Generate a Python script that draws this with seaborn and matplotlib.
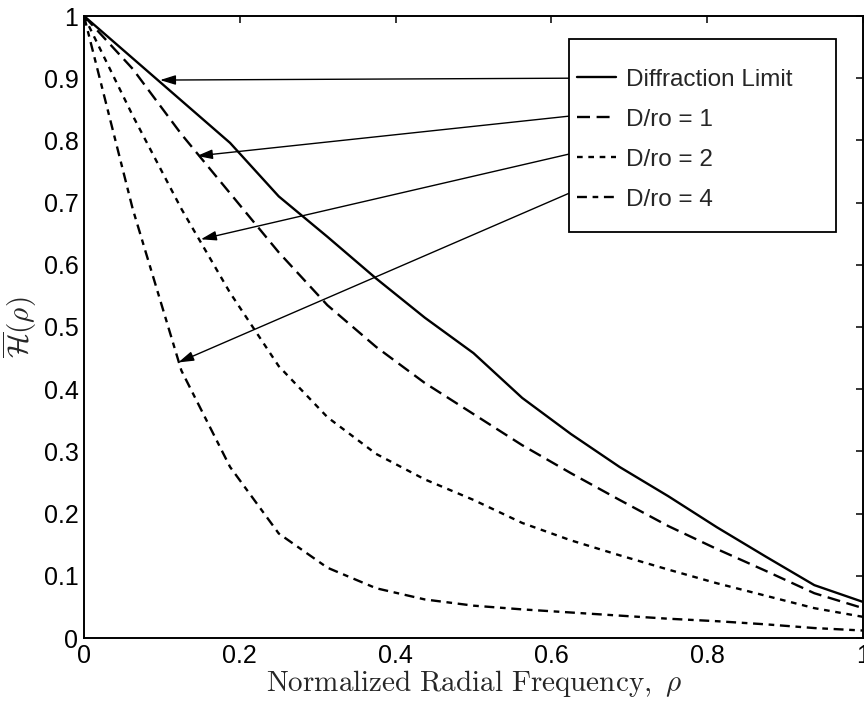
import numpy as np
import pandas as pd
import matplotlib
matplotlib.use("Agg")
import matplotlib.pyplot as plt
from matplotlib.patches import Rectangle
import seaborn as sns

# sampled radial frequencies (1/16 steps)
rho = [0, 0.0625, 0.125, 0.1875, 0.25, 0.3125, 0.375, 0.4375, 0.5,
       0.5625, 0.625, 0.6875, 0.75, 0.8125, 0.875, 0.9375, 1.0]

diff_limit = [1.0, 0.932, 0.864, 0.796, 0.71, 0.645, 0.578, 0.515, 0.458,
              0.386, 0.328, 0.275, 0.228, 0.178, 0.131, 0.085, 0.058]
d_ro_1 = [1.0, 0.915, 0.81, 0.715, 0.62, 0.535, 0.468, 0.41, 0.36,
          0.31, 0.265, 0.222, 0.18, 0.143, 0.108, 0.072, 0.048]
d_ro_2 = [1.0, 0.84, 0.69, 0.555, 0.437, 0.355, 0.296, 0.255, 0.222,
          0.185, 0.157, 0.133, 0.11, 0.088, 0.068, 0.048, 0.034]
d_ro_4 = [1.0, 0.69, 0.43, 0.275, 0.168, 0.113, 0.08, 0.062, 0.052,
          0.046, 0.041, 0.036, 0.031, 0.027, 0.022, 0.016, 0.012]

labels = ["Diffraction Limit", "D/ro = 1", "D/ro = 2", "D/ro = 4"]

# arrows: legend edge -> curve
arrow_start = [(0.6226, 0.900), (0.6226, 0.839), (0.6226, 0.778), (0.6226, 0.715)]
arrow_tip = [(0.0976, 0.897), (0.145, 0.775), (0.150, 0.641), (0.121, 0.443)]

df = pd.concat([
    pd.DataFrame({"rho": rho, "H": vals, "curve": lab})
    for vals, lab in zip([diff_limit, d_ro_1, d_ro_2, d_ro_4], labels)
])

sns.set_style("white")
plt.rcParams["font.family"] = ["Liberation Sans", "DejaVu Sans"]
plt.rcParams["mathtext.fontset"] = "cm"

fig = plt.figure(figsize=(8.64, 7.05), dpi=100)
ax = fig.add_axes([84 / 864, 1 - 638 / 705, 779 / 864, 622 / 705])

dash_map = {
    labels[0]: "",
    labels[1]: (5.5, 2.8),
    labels[2]: (2.4, 2.4),
    labels[3]: (4.2, 2.4, 2.4, 2.4),
}
sns.lineplot(data=df, x="rho", y="H", style="curve", style_order=labels,
             dashes=dash_map, color="black", linewidth=1.7, ax=ax,
             legend="full")

leg_old = ax.get_legend()
handles = leg_old.legend_handles
leg_labels = [t.get_text() for t in leg_old.get_texts()]
leg_old.remove()

ax.set_xlim(0, 1)
ax.set_ylim(0, 1)
ax.set_xticks([0, 0.2, 0.4, 0.6, 0.8, 1.0])
ax.set_yticks([0, 0.1, 0.2, 0.3, 0.4, 0.5, 0.6, 0.7, 0.8, 0.9, 1.0])
ax.xaxis.set_major_formatter(matplotlib.ticker.FormatStrFormatter("%g"))
ax.yaxis.set_major_formatter(matplotlib.ticker.FormatStrFormatter("%g"))
ax.tick_params(direction="in", length=5, width=1.1, top=True, right=True,
               labelsize=18, pad=4, colors="black")
for sp in ax.spines.values():
    sp.set_linewidth(1.4)
    sp.set_color("black")

ax.set_xlabel(r"$\mathrm{Normalized\ Radial\ Frequency,}\ \rho$", fontsize=21, labelpad=0)
ax.set_ylabel(r"$\overline{\mathcal{H}}(\rho)$", fontsize=21)
ax.yaxis.set_label_coords(-0.058, 0.5)

# legend box
ax.add_patch(Rectangle((0.6226, 0.653), 0.3427, 0.31, transform=ax.transAxes,
                       facecolor="white", edgecolor="black", lw=1.3, zorder=4))
ax.legend(handles, leg_labels, loc="upper left", bbox_to_anchor=(0.633, 0.915),
          frameon=False, borderpad=0, borderaxespad=0, fontsize=17.5,
          handlelength=1.6, handletextpad=0.4, labelspacing=0.74).set_zorder(5)

for start, tip in zip(arrow_start, arrow_tip):
    ax.annotate("", xy=tip, xytext=start,
                arrowprops=dict(arrowstyle="-|>,head_length=0.55,head_width=0.17",
                                color="black", lw=1, mutation_scale=17,
                                shrinkA=0, shrinkB=0))

fig.savefig("out.png", dpi=100)
